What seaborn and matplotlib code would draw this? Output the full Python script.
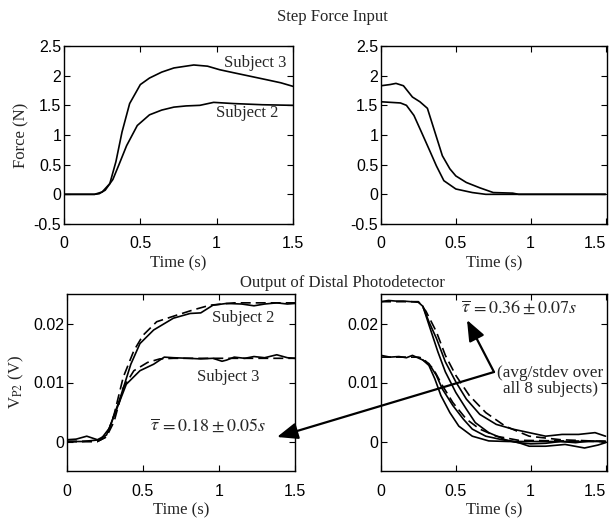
import numpy as np
import pandas as pd
import matplotlib
matplotlib.use("Agg")
import matplotlib.pyplot as plt
import seaborn as sns

# ---------------- data ----------------
# Top-left: step force input (rising)
tl_s3_t = [0, 0.1, 0.2, 0.25, 0.3, 0.34, 0.38, 0.43, 0.5, 0.56, 0.64, 0.72, 0.85, 0.94, 1.02, 1.11, 1.22, 1.33, 1.42, 1.5]
tl_s3_v = [0, 0, 0, 0.04, 0.18, 0.55, 1.05, 1.53, 1.85, 1.96, 2.06, 2.13, 2.18, 2.16, 2.10, 2.05, 1.99, 1.93, 1.88, 1.82]
tl_s2_t = [0, 0.1, 0.2, 0.23, 0.27, 0.32, 0.36, 0.41, 0.48, 0.56, 0.64, 0.72, 0.8, 0.89, 0.98, 1.11, 1.3, 1.5]
tl_s2_v = [0, 0, 0, 0.01, 0.07, 0.25, 0.5, 0.82, 1.16, 1.34, 1.42, 1.47, 1.49, 1.5, 1.55, 1.53, 1.51, 1.5]

# Top-right: step force release (falling)
tr_a_t = [0, 0.06, 0.10, 0.15, 0.21, 0.26, 0.31, 0.36, 0.41, 0.46, 0.5, 0.57, 0.66, 0.75, 0.88, 0.92, 1.5]
tr_a_v = [1.83, 1.85, 1.87, 1.83, 1.64, 1.56, 1.45, 1.05, 0.65, 0.43, 0.31, 0.2, 0.11, 0.03, 0.02, 0.0, 0.0]
tr_b_t = [0, 0.13, 0.17, 0.22, 0.27, 0.33, 0.37, 0.42, 0.5, 0.61, 0.7, 1.5]
tr_b_v = [1.56, 1.54, 1.50, 1.33, 1.05, 0.71, 0.48, 0.23, 0.09, 0.03, 0.0, 0.0]

# Bottom-left: photodetector output (rising), measured (solid) and fit (dashed)
bl_s2_t = [0, 0.1, 0.22, 0.28, 0.35, 0.42, 0.48, 0.57, 0.70, 0.81, 0.88, 0.96, 1.05, 1.15, 1.23, 1.3, 1.38, 1.45, 1.5]
bl_s2_v = [0, 0, 0.0003, 0.0023, 0.0074, 0.0131, 0.0166, 0.0189, 0.0209, 0.0217, 0.0218, 0.0231, 0.0234, 0.0233, 0.0230, 0.0233, 0.0235, 0.0233, 0.0234]
bl_s2f_t = [0, 0.2, 0.26, 0.31, 0.37, 0.44, 0.5, 0.59, 0.72, 0.83, 0.94, 1.1, 1.5]
bl_s2f_v = [0, 0, 0.0008, 0.0046, 0.0109, 0.0154, 0.018, 0.0203, 0.0214, 0.0223, 0.0231, 0.0235, 0.0235]
bl_s3_t = [0, 0.06, 0.13, 0.2, 0.26, 0.33, 0.39, 0.48, 0.57, 0.64, 0.7, 0.8, 0.88, 0.96, 1.02, 1.05, 1.1, 1.17, 1.23, 1.3, 1.38, 1.45, 1.5]
bl_s3_v = [0.0003, 0.0004, 0.0009, 0.0003, 0.0011, 0.0057, 0.0097, 0.012, 0.0131, 0.0143, 0.0142, 0.0141, 0.014, 0.0141, 0.0136, 0.0138, 0.0143, 0.0141, 0.0144, 0.0142, 0.0147, 0.0142, 0.0141]
bl_s3f_t = [0, 0.2, 0.26, 0.31, 0.37, 0.44, 0.53, 0.61, 0.7, 0.88, 1.5]
bl_s3f_v = [0, 0, 0.0008, 0.0034, 0.0091, 0.012, 0.0134, 0.014, 0.0141, 0.0141, 0.0141]

# Bottom-right: photodetector output (falling)
br_s2_t = [0, 0.05, 0.1, 0.15, 0.2, 0.25, 0.28, 0.32, 0.37, 0.43, 0.5, 0.57, 0.66, 0.77, 0.88, 0.99, 1.1, 1.21, 1.32, 1.43, 1.5]
br_s2_v = [0.0237, 0.0239, 0.0238, 0.0238, 0.0237, 0.0236, 0.0229, 0.0203, 0.0175, 0.0135, 0.0101, 0.0072, 0.0046, 0.0029, 0.0021, 0.0015, 0.0009, 0.0012, 0.0012, 0.0015, 0.0009]
br_s2b_t = [0.28, 0.32, 0.38, 0.43, 0.5, 0.57, 0.63, 0.72, 0.83, 0.92, 1.0, 1.1, 1.2, 1.3, 1.4, 1.5]
br_s2b_v = [0.0229, 0.0198, 0.0152, 0.0118, 0.0083, 0.0055, 0.0032, 0.0015, 0.0003, -0.0002, -0.0004, -0.0003, 0.0000, -0.0002, 0.0001, 0.0000]
br_s2f_t = [0, 0.25, 0.30, 0.37, 0.43, 0.5, 0.59, 0.7, 0.83, 0.99, 1.2, 1.5]
br_s2f_v = [0.0237, 0.0237, 0.0221, 0.0186, 0.0146, 0.0112, 0.0078, 0.0049, 0.0026, 0.0009, 0.0003, 0.0]
br_s3_t = [0, 0.06, 0.12, 0.17, 0.21, 0.28, 0.32, 0.37, 0.41, 0.48, 0.55, 0.61, 0.70, 0.81, 0.92, 0.99, 1.1, 1.23, 1.36, 1.45, 1.5]
br_s3_v = [0.0146, 0.0143, 0.0144, 0.0142, 0.0146, 0.0138, 0.0132, 0.0112, 0.0089, 0.0061, 0.0038, 0.0021, 0.0009, 0.0003, -0.0002, -0.0008, -0.0008, -0.0005, -0.0011, -0.0006, -0.0002]
br_s3b_t = [0.28, 0.32, 0.36, 0.40, 0.46, 0.52, 0.61, 0.72, 0.85, 1.5]
br_s3b_v = [0.0138, 0.0129, 0.0106, 0.0078, 0.0049, 0.0026, 0.0009, 0.0001, 0.0, 0.0]
br_s3f_t = [0, 0.25, 0.28, 0.35, 0.41, 0.48, 0.57, 0.66, 0.77, 0.92, 1.5]
br_s3f_v = [0.0143, 0.0143, 0.0141, 0.0123, 0.0095, 0.0066, 0.0038, 0.0021, 0.0009, 0.0002, 0.0]

x_ticks = [0, 0.5, 1, 1.5]
x_ticklabels = ["0", "0.5", "1", "1.5"]
force_ticks = [-0.5, 0, 0.5, 1, 1.5, 2, 2.5]
force_ticklabels = ["-0.5", "0", "0.5", "1", "1.5", "2", "2.5"]
volt_ticks = [0, 0.01, 0.02]
volt_ticklabels = ["0", "0.01", "0.02"]

# ---------------- style ----------------
sns.set_style("ticks")
SERIF = "Liberation Serif"
SANS = "Liberation Sans"
plt.rcParams["font.family"] = [SANS, "DejaVu Sans"]
plt.rcParams["mathtext.fontset"] = "stix"
plt.rcParams["xtick.direction"] = "in"
plt.rcParams["ytick.direction"] = "in"

TICK_FS = 11.5
TEXT_FS = 12
W, H = 610, 519
fig = plt.figure(figsize=(W / 100, H / 100), dpi=100)


def px_axes(left, top, right, bottom):
    return fig.add_axes([left / W, 1 - bottom / H, (right - left) / W, (bottom - top) / H])


ax_tl = px_axes(64, 46, 293, 224)
ax_tr = px_axes(381, 46, 607, 224)
ax_bl = px_axes(67, 294, 295, 471)
ax_br = px_axes(381, 294, 607, 471)


def draw(ax, t, v, dashed=False):
    df = pd.DataFrame({"t": t, "v": v})
    sns.lineplot(data=df, x="t", y="v", ax=ax, color="black", lw=1.2,
                 linestyle=(0, (6, 3)) if dashed else "-", sort=False, estimator=None)


draw(ax_tl, tl_s3_t, tl_s3_v)
draw(ax_tl, tl_s2_t, tl_s2_v)
draw(ax_tr, tr_a_t, tr_a_v)
draw(ax_tr, tr_b_t, tr_b_v)
draw(ax_bl, bl_s2_t, bl_s2_v)
draw(ax_bl, bl_s2f_t, bl_s2f_v, dashed=True)
draw(ax_bl, bl_s3_t, bl_s3_v)
draw(ax_bl, bl_s3f_t, bl_s3f_v, dashed=True)
draw(ax_br, br_s2_t, br_s2_v)
draw(ax_br, br_s2b_t, br_s2b_v)
draw(ax_br, br_s2f_t, br_s2f_v, dashed=True)
draw(ax_br, br_s3_t, br_s3_v)
draw(ax_br, br_s3b_t, br_s3b_v)
draw(ax_br, br_s3f_t, br_s3f_v, dashed=True)

for ax, xmax in [(ax_tl, 1.5), (ax_tr, 1.51), (ax_bl, 1.5), (ax_br, 1.51)]:
    ax.set_xlim(0, xmax)
    ax.set_xticks(x_ticks)
    ax.set_xticklabels(x_ticklabels)
    ax.tick_params(axis="both", which="both", direction="in", length=4, width=0.8,
                   top=True, right=True, labelsize=TICK_FS, colors="black")
    ax.tick_params(axis="x", pad=9)
    ax.tick_params(axis="y", pad=2)
    for s in ax.spines.values():
        s.set_visible(True)
        s.set_linewidth(1.0)
        s.set_color("black")
    ax.set_xlabel("Time (s)", fontfamily=SERIF, fontsize=TEXT_FS, labelpad=3)
    ax.set_ylabel("")

# keep the last x label of the right panels inside the figure
for ax in (ax_tr, ax_br):
    lab = ax.get_xticklabels()[-1]
    lab.set_horizontalalignment("right")
    lab.set_x(1.5)

for ax in (ax_tl, ax_tr):
    ax.set_ylim(-0.5, 2.5)
    ax.set_yticks(force_ticks)
    ax.set_yticklabels(force_ticklabels)
for ax in (ax_bl, ax_br):
    ax.set_ylim(-0.005, 0.025)
    ax.set_yticks(volt_ticks)
    ax.set_yticklabels(volt_ticklabels)

ax_tl.set_ylabel("Force (N)", fontfamily=SERIF, fontsize=TEXT_FS, labelpad=3)
ax_bl.set_ylabel(r"V$_{\mathrm{P2}}$ (V)", fontfamily=SERIF, fontsize=TEXT_FS, labelpad=5)

# subject labels
ax_tl.text(1.25, 2.21, "Subject 3", fontfamily=SERIF, fontsize=TEXT_FS, ha="center", va="center")
ax_tl.text(1.2, 1.37, "Subject 2", fontfamily=SERIF, fontsize=TEXT_FS, ha="center", va="center")
ax_bl.text(1.16, 0.0209, "Subject 2", fontfamily=SERIF, fontsize=TEXT_FS, ha="center", va="center")
ax_bl.text(1.06, 0.0109, "Subject 3", fontfamily=SERIF, fontsize=TEXT_FS, ha="center", va="center")

ax_bl.text(0.93, 0.0026, r"$\overline{\tau}\,=0.18\pm0.05s$", fontsize=13, ha="center", va="center")
ax_br.text(0.92, 0.0226, r"$\overline{\tau}\,=0.36\pm0.07s$", fontsize=13, ha="center", va="center")
ax_br.text(1.13, 0.0103, "(avg/stdev over\nall 8 subjects)", fontfamily=SERIF, fontsize=12.3,
           ha="center", va="center", linespacing=1.0, clip_on=False)

# section titles
fig.text(332 / W, 1 - 17 / H, "Step Force Input", fontfamily=SERIF, fontsize=TEXT_FS, ha="center", va="center")
fig.text(342 / W, 1 - 283 / H, "Output of Distal Photodetector", fontfamily=SERIF, fontsize=TEXT_FS,
         ha="center", va="center")

# arrows
def ff(x, y):
    return (x / W, 1 - y / H)

ap = dict(arrowstyle="-|>,head_length=0.9,head_width=0.36", mutation_scale=14, lw=1.6,
          color="black", shrinkA=0, shrinkB=0)
fig.add_artist(matplotlib.patches.FancyArrowPatch(ff(494, 372), ff(277, 437),
               transform=fig.transFigure, **ap))
fig.add_artist(matplotlib.patches.FancyArrowPatch(ff(494, 372), ff(467, 320),
               transform=fig.transFigure, **ap))

fig.savefig("out.png", dpi=100)
